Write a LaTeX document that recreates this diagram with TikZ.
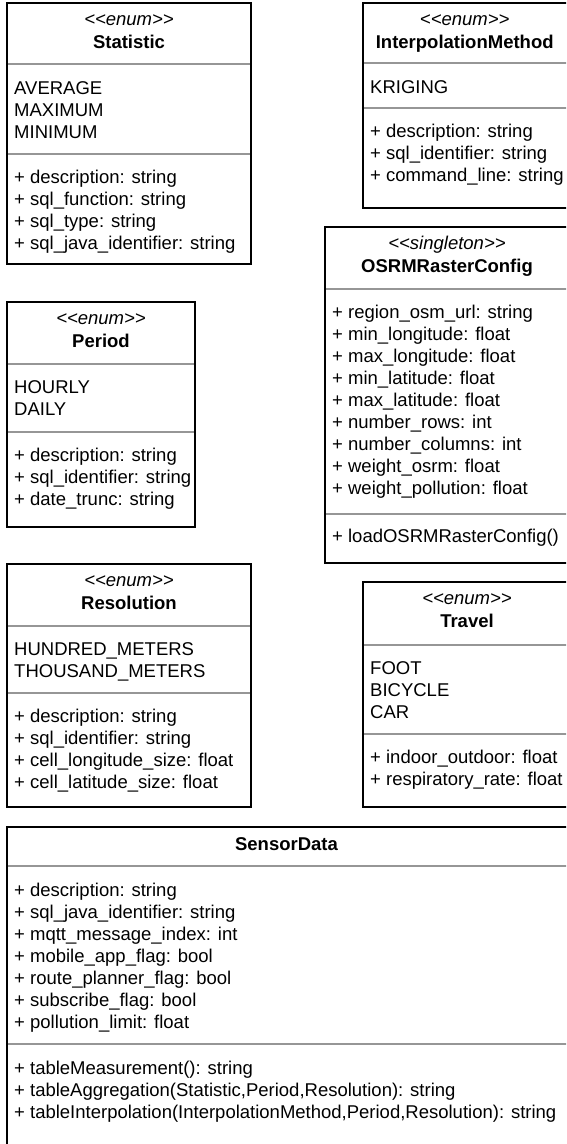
\documentclass[tikz,border=0pt]{standalone}
\usepackage{fontspec}
\setmainfont{Liberation Sans}
\definecolor{divgray}{RGB}{150,150,150}
\newcommand\umlst[1]{<\kern0pt<#1>\kern0pt>}
\tikzset{
  frame/.style={draw=black, line width=2pt},
  divider/.style={draw=divgray, line width=2pt},
  item/.style={anchor=base west, inner sep=0pt, font=\fontsize{18.5}{22}\selectfont},
  stereo/.style={anchor=base, inner sep=0pt, font=\fontsize{18.5}{22}\selectfont\itshape},
  cname/.style={anchor=base, inner sep=0pt, font=\fontsize{18.5}{22}\selectfont\bfseries},
}
\begin{document}
\begin{tikzpicture}[x=1pt,y=-1pt]
\useasboundingbox (0,0) rectangle (566,1144);
\clip (0,0) rectangle (566,1144);
\fill[white] (0,0) rectangle (566,1144);

% ---------- Statistic ----------
\draw[divider] (7,64) -- (251,64);
\draw[divider] (7,154) -- (251,154);
\draw[frame] (7,3) rectangle (251,264);
\node[stereo] (stat-st) at (129,25) {\umlst{enum}};
\node[cname] (stat-nm) at (129,48) {Statistic};
\foreach \t [count=\k] in {AVERAGE,MAXIMUM,MINIMUM}
  \node[item] (stat-v\k) at (14,{94+22*(\k-1)}) {\t};
\foreach \t [count=\k] in {+ description: string,+ sql\_function: string,+ sql\_type: string,+ sql\_java\_identifier: string}
  \node[item] (stat-a\k) at (14,{183+22*(\k-1)}) {\t};

% ---------- InterpolationMethod ----------
\draw[divider] (362.7,63.3) -- (575,63.3);
\draw[divider] (362.7,108.3) -- (575,108.3);
\draw[frame] (362.7,3.3) rectangle (575,208.3);
\node[stereo] (ip-st) at (464.7,25.3) {\umlst{enum}};
\node[cname] (ip-nm) at (464.7,48.3) {InterpolationMethod};
\node[item] (ip-v1) at (370,93.3) {KRIGING};
\foreach \t [count=\k] in {+ description: string,+ sql\_identifier: string,+ command\_line: string}
  \node[item] (ip-a\k) at (370,{137.8+22*(\k-1)}) {\t};

% ---------- OSRMRasterConfig ----------
\draw[divider] (325,288.5) -- (575,288.5);
\draw[divider] (325,514) -- (575,514);
\draw[frame] (325,227) rectangle (575,562.5);
\node[stereo] (os-st) at (447,249) {\umlst{singleton}};
\node[cname] (os-nm) at (447,272) {OSRMRasterConfig};
\foreach \t [count=\k] in {+ region\_osm\_url: string,+ min\_longitude: float,+ max\_longitude: float,+ min\_latitude: float,+ max\_latitude: float,+ number\_rows: int,+ number\_columns: int,+ weight\_osrm: float,+ weight\_pollution: float}
  \node[item] (os-a\k) at (332,{318+22*(\k-1)}) {\t};
\node[item] (os-m1) at (332,542) {+ loadOSRMRasterConfig()};

% ---------- Period ----------
\draw[divider] (7,364) -- (195,364);
\draw[divider] (7,432) -- (195,432);
\draw[frame] (7,302) rectangle (195,527);
\node[stereo] (pe-st) at (101,324) {\umlst{enum}};
\node[cname] (pe-nm) at (101,347) {Period};
\foreach \t [count=\k] in {HOURLY,DAILY}
  \node[item] (pe-v\k) at (14,{393.5+22*(\k-1)}) {\t};
\foreach \t [count=\k] in {+ description: string,+ sql\_identifier: string,+ date\_trunc: string}
  \node[item] (pe-a\k) at (14,{461+22*(\k-1)}) {\t};

% ---------- Resolution ----------
\draw[divider] (7,626) -- (251,626);
\draw[divider] (7,693) -- (251,693);
\draw[frame] (7,564) rectangle (251,807);
\node[stereo] (re-st) at (129,586) {\umlst{enum}};
\node[cname] (re-nm) at (129,609) {Resolution};
\foreach \t [count=\k] in {HUNDRED\_METERS,THOUSAND\_METERS}
  \node[item] (re-v\k) at (14,{655+22*(\k-1)}) {\t};
\foreach \t [count=\k] in {+ description: string,+ sql\_identifier: string,+ cell\_longitude\_size: float,+ cell\_latitude\_size: float}
  \node[item] (re-a\k) at (14,{722+22*(\k-1)}) {\t};

% ---------- Travel ----------
\draw[divider] (363,645) -- (575,645);
\draw[divider] (363,734) -- (575,734);
\draw[frame] (363,582) rectangle (575,807);
\node[stereo] (tr-st) at (467,604) {\umlst{enum}};
\node[cname] (tr-nm) at (467,627) {Travel};
\foreach \t [count=\k] in {FOOT,BICYCLE,CAR}
  \node[item] (tr-v\k) at (370,{674.5+22*(\k-1)}) {\t};
\foreach \t [count=\k] in {+ indoor\_outdoor: float,+ respiratory\_rate: float}
  \node[item] (tr-a\k) at (370,{763+22*(\k-1)}) {\t};

% ---------- SensorData ----------
\draw[divider] (6.7,866) -- (575,866);
\draw[divider] (6.7,1044.3) -- (575,1044.3);
\draw[frame] (6.7,826.7) rectangle (575,1144.6);
\node[cname] (sd-nm) at (286.5,850) {SensorData};
\foreach \t [count=\k] in {+ description: string,+ sql\_java\_identifier: string,+ mqtt\_message\_index: int,+ mobile\_app\_flag: bool,+ route\_planner\_flag: bool,+ subscribe\_flag: bool,+ pollution\_limit: float}
  \node[item] (sd-a\k) at (14,{896+22*(\k-1)}) {\t};
\foreach \t [count=\k] in {+ tableMeasurement(): string,{+ tableAggregation(Statistic,Period,Resolution): string},{+ tableInterpolation(InterpolationMethod,Period,Resolution): string}}
  \node[item] (sd-m\k) at (14,{1074+22*(\k-1)}) {\t};
\end{tikzpicture}
\end{document}
